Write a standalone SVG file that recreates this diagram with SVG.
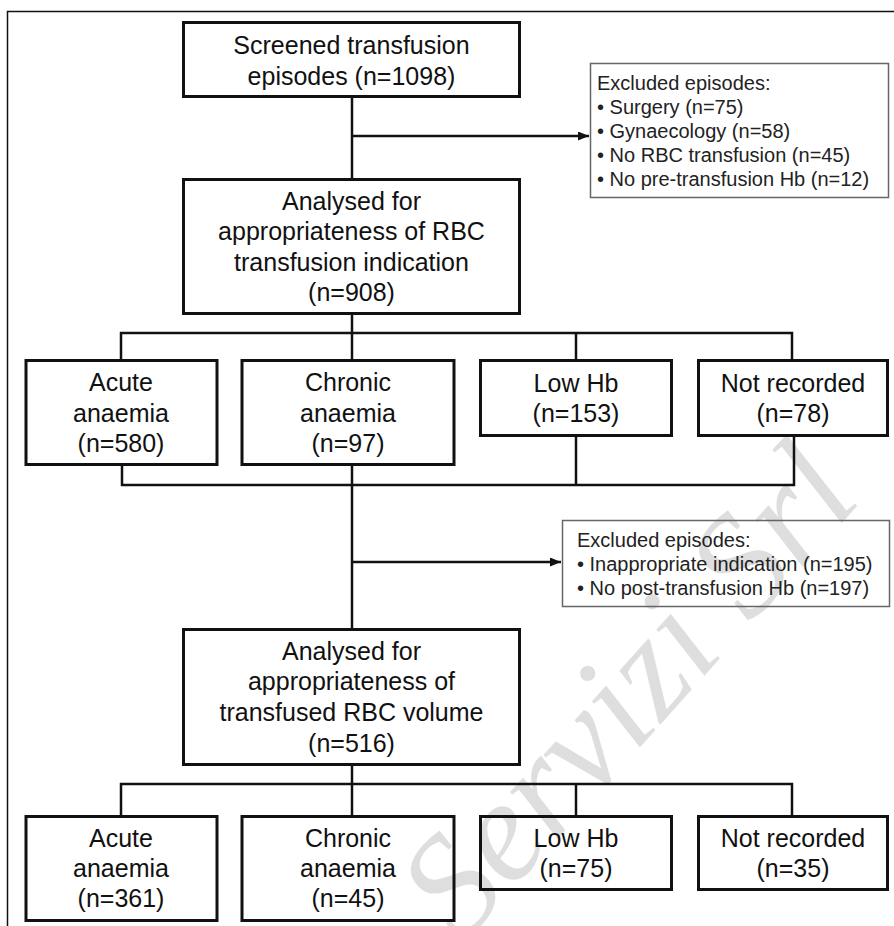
<svg xmlns="http://www.w3.org/2000/svg" width="894" height="926" viewBox="0 0 894 926">
<style>
.box{fill:none;stroke:#111;stroke-width:3}
.ex{fill:none;stroke:#666;stroke-width:1.5}
.t{font-family:"Liberation Sans",Arial,sans-serif;font-size:25px;fill:#111;text-anchor:middle}
.s{font-family:"Liberation Sans",Arial,sans-serif;font-size:20px;fill:#222}
.c{fill:none;stroke:#111;stroke-width:2.5}
.wm{font-family:"Liberation Serif","Times New Roman",serif;font-style:italic;font-size:145px;fill:#000;fill-opacity:0.13}
</style>
<defs>
<marker id="ah" markerWidth="11" markerHeight="9" refX="11" refY="4.5" orient="auto" markerUnits="userSpaceOnUse">
<path d="M0,0 L11,4.5 L0,9 Z" fill="#111"/>
</marker>
</defs>
<rect width="894" height="926" fill="#fff"/>
<text class="wm" transform="translate(462,945) rotate(-48)">Servizi Srl</text>
<path d="M7.5,926 V11.5 H894" fill="none" stroke="#111" stroke-width="1.5"/>

<g id="connectors">
<path class="c" d="M352,98 V178"/>
<path class="c" d="M352,136 H589" marker-end="url(#ah)"/>
<path class="c" d="M352,315 V359 M121,359 V333 H792 V359 M576,333 V359"/>
<path class="c" d="M122,466 V485 H794 V436 M576,436 V485 M352,466 V628"/>
<path class="c" d="M352,562 H561" marker-end="url(#ah)"/>
<path class="c" d="M352,766 V815 M121,815 V784 H792 V815 M576,784 V815"/>
</g>

<g id="screened">
<rect class="box" x="183.5" y="22.5" width="336" height="74"/>
<text class="t" x="351.5" y="54">Screened transfusion</text>
<text class="t" x="351.5" y="85">episodes (n=1098)</text>
</g>

<g id="excluded1">
<rect class="ex" x="590.5" y="63.5" width="298" height="134"/>
<text class="s" x="597" y="90">Excluded episodes:</text>
<text class="s" x="597" y="114">• Surgery (n=75)</text>
<text class="s" x="597" y="138">• Gynaecology (n=58)</text>
<text class="s" x="597" y="162">• No RBC transfusion (n=45)</text>
<text class="s" x="597" y="186">• No pre-transfusion Hb (n=12)</text>
</g>

<g id="analysed1">
<rect class="box" x="183.5" y="179.5" width="336" height="134"/>
<text class="t" x="351.5" y="210">Analysed for</text>
<text class="t" x="351.5" y="240">appropriateness of RBC</text>
<text class="t" x="351.5" y="271">transfusion indication</text>
<text class="t" x="351.5" y="301">(n=908)</text>
</g>

<g id="acute1">
<rect class="box" x="26" y="360.5" width="191" height="104"/>
<text class="t" x="121" y="391">Acute</text>
<text class="t" x="121" y="422">anaemia</text>
<text class="t" x="121" y="452">(n=580)</text>
</g>
<g id="chronic1">
<rect class="box" x="242" y="360.5" width="212" height="104"/>
<text class="t" x="348" y="391">Chronic</text>
<text class="t" x="348" y="422">anaemia</text>
<text class="t" x="348" y="452">(n=97)</text>
</g>
<g id="lowhb1">
<rect class="box" x="480.5" y="360.5" width="191" height="75"/>
<text class="t" x="576" y="392">Low Hb</text>
<text class="t" x="576" y="422">(n=153)</text>
</g>
<g id="notrec1">
<rect class="box" x="698.5" y="360.5" width="189" height="75"/>
<text class="t" x="793" y="392">Not recorded</text>
<text class="t" x="793" y="422">(n=78)</text>
</g>

<g id="excluded2">
<rect class="ex" x="562.5" y="520.5" width="327" height="86"/>
<text class="s" x="577" y="547">Excluded episodes:</text>
<text class="s" x="577" y="571">• Inappropriate indication (n=195)</text>
<text class="s" x="577" y="595">• No post-transfusion Hb (n=197)</text>
</g>

<g id="analysed2">
<rect class="box" x="183.5" y="629.5" width="336" height="135"/>
<text class="t" x="351.5" y="660">Analysed for</text>
<text class="t" x="351.5" y="690">appropriateness of</text>
<text class="t" x="351.5" y="721">transfused RBC volume</text>
<text class="t" x="351.5" y="752">(n=516)</text>
</g>

<g id="acute2">
<rect class="box" x="26" y="816.5" width="191" height="104"/>
<text class="t" x="121" y="847">Acute</text>
<text class="t" x="121" y="877">anaemia</text>
<text class="t" x="121" y="907">(n=361)</text>
</g>
<g id="chronic2">
<rect class="box" x="242" y="816.5" width="212" height="104"/>
<text class="t" x="348" y="847">Chronic</text>
<text class="t" x="348" y="877">anaemia</text>
<text class="t" x="348" y="907">(n=45)</text>
</g>
<g id="lowhb2">
<rect class="box" x="480.5" y="816.5" width="191" height="73"/>
<text class="t" x="576" y="847">Low Hb</text>
<text class="t" x="576" y="877">(n=75)</text>
</g>
<g id="notrec2">
<rect class="box" x="698.5" y="816.5" width="189" height="73"/>
<text class="t" x="793" y="847">Not recorded</text>
<text class="t" x="793" y="877">(n=35)</text>
</g>
</svg>
